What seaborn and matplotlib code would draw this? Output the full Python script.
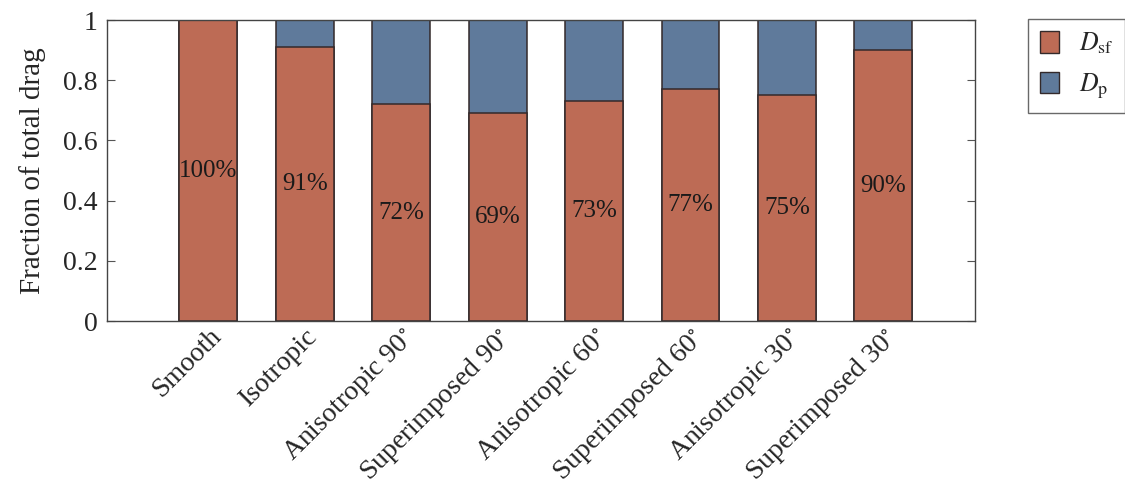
import matplotlib
matplotlib.use("Agg")
import matplotlib.pyplot as plt
import seaborn as sns
import pandas as pd
from matplotlib.patches import Patch

# Drag decomposition per surface configuration
categories = ["Smooth", "Isotropic", r"Anisotropic 90$^{\circ}$", r"Superimposed 90$^{\circ}$",
              r"Anisotropic 60$^{\circ}$", r"Superimposed 60$^{\circ}$",
              r"Anisotropic 30$^{\circ}$", r"Superimposed 30$^{\circ}$"]
skin_friction = [1.00, 0.91, 0.72, 0.69, 0.73, 0.77, 0.75, 0.90]   # D_sf fraction
pressure = [round(1 - v, 2) for v in skin_friction]                  # D_p fraction
pct_labels = ["100%", "91%", "72%", "69%", "73%", "77%", "75%", "90%"]
yticks = [0, 0.2, 0.4, 0.6, 0.8, 1]
ytick_labels = ["0", "0.2", "0.4", "0.6", "0.8", "1"]

sns.set_theme(style="white")
plt.rcParams["font.family"] = ["Liberation Serif", "DejaVu Serif"]
plt.rcParams["mathtext.fontset"] = "stix"

red = "#BD6B55"
blue = "#5F7A9B"
edge = "#33292a"

df = pd.DataFrame({"surface": categories, "sf": skin_friction, "p": pressure})
df["total"] = df["sf"] + df["p"]

fig = plt.figure(figsize=(11.25, 4.88), dpi=100)
ax = fig.add_axes([0.0951, 0.342, 0.7716, 0.617])

sns.barplot(data=df, x="surface", y="total", color=blue, saturation=1,
            width=0.6, edgecolor=edge, linewidth=1.1, ax=ax)
sns.barplot(data=df, x="surface", y="sf", color=red, saturation=1,
            width=0.6, edgecolor=edge, linewidth=1.1, ax=ax)

for i, (v, lab) in enumerate(zip(skin_friction, pct_labels)):
    ax.text(i, v / 2, lab, ha="center", va="center", fontsize=18, color="#1a1a1a")

ax.set_xlim(-1.05, 7.95)
ax.set_ylim(0, 1)
ax.set_yticks(yticks)
ax.set_yticklabels(ytick_labels, fontsize=20)
ax.set_xlabel("")
ax.set_ylabel("Fraction of total drag", fontsize=21, labelpad=12)
ax.set_xticks(range(len(categories)))
ax.set_xticklabels(categories, rotation=45, ha="right", rotation_mode="anchor", fontsize=20)
ax.tick_params(axis="x", length=0, pad=2)
ax.tick_params(axis="y", direction="in", length=6, width=0.8, color="#555555",
               left=True, right=True, pad=7)

for s in ax.spines.values():
    s.set_visible(True)
    s.set_color("#444444")
    s.set_linewidth(1.0)

handles = [Patch(facecolor=red, edgecolor=edge, label=r"$D_{\mathrm{sf}}$"),
           Patch(facecolor=blue, edgecolor=edge, label=r"$D_{\mathrm{p}}$")]
leg = fig.legend(handles=handles, loc="upper left", bbox_to_anchor=(0.914, 0.961),
                 borderaxespad=0, fontsize=18.5, frameon=True, fancybox=False,
                 handlelength=0.76, handleheight=0.92, borderpad=0.45,
                 labelspacing=0.6, handletextpad=0.75)
leg.get_frame().set_edgecolor("#444444")
leg.get_frame().set_linewidth(1.0)

fig.savefig("out.png", dpi=100)
